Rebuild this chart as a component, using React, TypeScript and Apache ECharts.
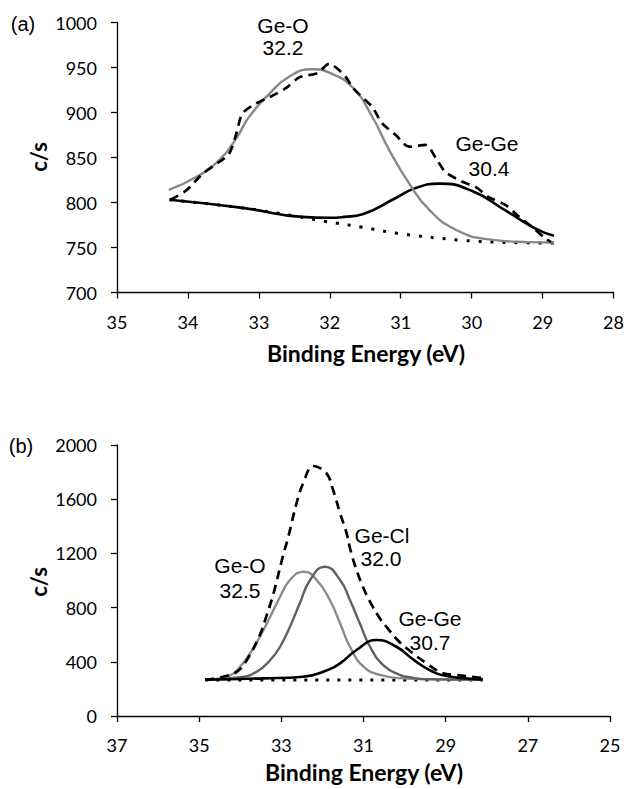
import { useEffect, useRef } from "react";
import * as echarts from "echarts";

// ---------- Panel (a) ----------
const aRawX = [34.25, 34.03, 33.79, 33.56, 33.42, 33.32, 33.23, 33.04, 32.85, 32.62, 32.43, 32.17, 32.01, 31.96, 31.78, 31.68, 31.49, 31.4, 31.26, 31.07, 30.88, 30.65, 30.51, 30.37, 30.13, 29.94, 29.76, 29.52, 29.33, 29.15, 28.96, 28.88];
const aRawY = [803, 813, 832, 845, 854, 876, 899, 910, 917, 927, 939, 944, 954, 953, 940, 928, 913, 906, 888, 875, 862, 864, 850, 834, 823, 817, 806, 797, 784, 773, 760, 756];

const aGeOX = [34.27, 33.89, 33.56, 33.32, 33.14, 32.85, 32.57, 32.25, 32.0, 31.68, 31.4, 31.16, 30.88, 30.6, 30.23, 29.76, 29.2, 28.84];
const aGeOY = [814, 828, 847, 871, 895, 921, 940, 948, 944, 928, 895, 858, 821, 792, 770, 759, 756, 755.5];

const aGeGeX = [34.26, 33.23, 32.39, 32.0, 31.8, 31.54, 31.07, 30.79, 30.46, 30.0, 29.52, 29.1, 28.84];
const aGeGeY = [803, 794, 784, 783, 784, 787, 805, 816, 821, 813, 791, 771, 763];

const aBgX = [34.26, 33.23, 32.5, 32.06, 31.54, 31.07, 30.13, 29.43, 28.84];
const aBgY = [803, 794, 785, 779, 772.5, 766, 758, 755.5, 755];

// ---------- Panel (b) ----------
const bRawX = [34.85, 34.41, 34.08, 33.84, 33.52, 33.35, 33.19, 32.97, 32.83, 32.63, 32.47, 32.22, 31.9, 31.74, 31.57, 31.41, 31.33, 31.21, 31.01, 30.8, 30.6, 30.42, 30.2, 29.95, 29.47, 29.06, 28.74, 28.25, 28.1];
const bRawY = [268, 290, 327, 413, 600, 750, 905, 1170, 1323, 1570, 1717, 1845, 1791, 1668, 1496, 1348, 1240, 1114, 950, 820, 720, 650, 570, 500, 389, 315, 303, 286, 280];

const bGeOX = [34.85, 34.25, 34.0, 33.76, 33.52, 33.27, 33.03, 32.79, 32.45, 32.14, 31.82, 31.57, 31.33, 31.0, 30.6, 30.03, 29.0, 28.1];
const bGeOY = [268, 300, 364, 463, 585, 733, 880, 1004, 1065, 1004, 856, 684, 511, 364, 303, 278, 270, 268];

const bGeClX = [34.85, 34.0, 33.6, 33.27, 33.03, 32.79, 32.55, 32.3, 31.94, 31.57, 31.33, 31.09, 30.84, 30.52, 30.12, 29.87, 29.5, 28.1];
const bGeClY = [268, 286, 327, 413, 511, 659, 832, 1004, 1102, 1004, 856, 684, 511, 376, 303, 286, 272, 268];

const bGeGeX = [34.85, 33.44, 32.47, 31.98, 31.57, 31.17, 30.68, 30.2, 29.8, 29.39, 28.98, 28.4, 28.1];
const bGeGeY = [268, 278, 290, 327, 389, 487, 561, 511, 420, 339, 295, 275, 270];

const bBgX = [34.85, 28.1];
const bBgY = [266, 266];

// tick settings
const aXTicks = { min: 28, max: 35, interval: 1 };
const aYTicks = { min: 700, max: 1000, interval: 50 };
const bXTicks = { min: 25, max: 37, interval: 2 };
const bYTicks = { min: 0, max: 2000, interval: 400 };

const pairs = (xs: number[], ys: number[]) => xs.map((x, i) => [x, ys[i]]);

const labelFont = "Lato";
const annFont = "'Liberation Sans', Arial, sans-serif";

export default function App() {
  const ref = useRef<HTMLDivElement>(null);
  useEffect(() => {
    const chart = echarts.init(ref.current!, null, { renderer: "svg" });
    const axisCommon = {
      type: "value" as const,
      axisLine: { show: true, onZero: false, lineStyle: { color: "#000", width: 1.3 } },
      axisTick: { show: true, length: 6, inside: false, lineStyle: { color: "#000", width: 1.3 } },
      splitLine: { show: false },
      axisLabel: {
        color: "#000",
        fontFamily: labelFont,
        fontSize: 18,
        margin: 20,
        formatter: (v: number) => String(v),
      },
    };
    const line = (
      name: string,
      data: number[][],
      idx: number,
      color: string,
      width: number,
      type: any,
      smooth: number | boolean,
      z: number
    ) => ({
      name,
      type: "line",
      xAxisIndex: idx,
      yAxisIndex: idx,
      data,
      showSymbol: false,
      symbol: "none",
      smooth,
      z,
      lineStyle: { color, width, type, cap: "butt" },
    });
    const txt = (text: string, x: number, y: number, size: number, bold = false, family = annFont, rotation = 0) => ({
      type: "text",
      x,
      y,
      rotation,
      style: {
        text,
        fill: "#000",
        font: `${bold ? "bold " : ""}${size}px ${family}`,
        textAlign: "center",
        textVerticalAlign: "middle",
      },
    });
    chart.setOption({
      animation: false,
      backgroundColor: "#fff",
      grid: [
        { left: 117, top: 22.5, width: 498, height: 270 },
        { left: 117, top: 445, width: 493, height: 271 },
      ],
      xAxis: [
        { ...axisCommon, gridIndex: 0, inverse: true, ...aXTicks },
        { ...axisCommon, gridIndex: 1, inverse: true, ...bXTicks },
      ],
      yAxis: [
        { ...axisCommon, gridIndex: 0, ...aYTicks },
        { ...axisCommon, gridIndex: 1, ...bYTicks },
      ],
      series: [
        line("Background (a)", pairs(aBgX, aBgY), 0, "#000", 3, [3, 9], 0.4, 1),
        line("Ge-Ge (a)", pairs(aGeGeX, aGeGeY), 0, "#000", 2.6, "solid", 0.5, 2),
        line("Ge-O (a)", pairs(aGeOX, aGeOY), 0, "#888888", 2.4, "solid", 0.5, 3),
        line("Raw (a)", pairs(aRawX, aRawY), 0, "#000", 2.7, [9, 6], 0.3, 4),
        line("Background (b)", pairs(bBgX, bBgY), 1, "#000", 3, [3, 8], false, 1),
        line("Ge-O (b)", pairs(bGeOX, bGeOY), 1, "#8c8c8c", 2.4, "solid", 0.5, 2),
        line("Ge-Cl (b)", pairs(bGeClX, bGeClY), 1, "#606060", 2.4, "solid", 0.5, 3),
        line("Ge-Ge (b)", pairs(bGeGeX, bGeGeY), 1, "#000", 2.6, "solid", 0.5, 4),
        line("Raw (b)", pairs(bRawX, bRawY), 1, "#000", 2.7, [9, 6], 0.4, 5),
      ],
      graphic: [
        txt("(a)", 23, 24, 20),
        txt("(b)", 21, 446, 20),
        txt("c/s", 38, 157, 22, true, labelFont, Math.PI / 2),
        txt("c/s", 38, 582, 22, true, labelFont, Math.PI / 2),
        txt("Binding Energy (eV)", 366, 353, 23, true, labelFont),
        txt("Binding Energy (eV)", 364, 772, 23, true, labelFont),
        txt("Ge-O", 283, 25, 21),
        txt("32.2", 283, 47, 21),
        txt("Ge-Ge", 487, 143, 21),
        txt("30.4", 489, 168, 21),
        txt("Ge-O", 240, 565, 21),
        txt("32.5", 240, 590, 21),
        txt("Ge-Cl", 382, 535, 21),
        txt("32.0", 381, 558, 21),
        txt("Ge-Ge", 430, 618, 21),
        txt("30.7", 430, 642, 21),
      ],
    });
    return () => chart.dispose();
  }, []);
  return (
    <div
      ref={ref}
      style={{ position: "absolute", left: 0, top: 0, width: 627, height: 789, background: "#fff" }}
    />
  );
}
